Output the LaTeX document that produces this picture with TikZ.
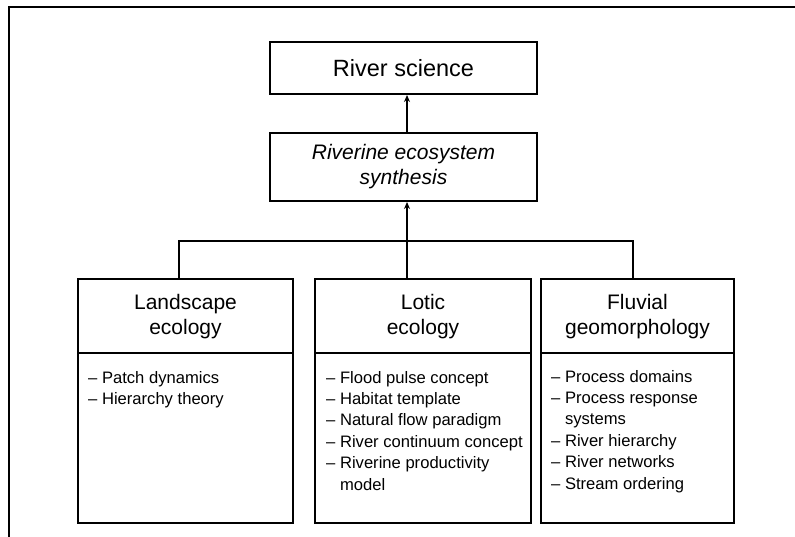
\documentclass[tikz,border=0pt]{standalone}
\usepackage{fontspec}
\setmainfont{Liberation Sans}
\usetikzlibrary{arrows.meta}
\tikzset{
  box/.style={draw, line width=2pt, rectangle, inner sep=0pt, align=center},
  headfont/.style={font=\fontsize{21}{25}\selectfont},
  titlefont/.style={font=\fontsize{23.5}{28}\selectfont},
  conn/.style={line width=1.5pt},
  arr/.style={conn, -{Stealth[length=7pt,width=6pt]}},
  listtxt/.style={anchor=base west, inner sep=0pt, font=\fontsize{16.6}{21.4}\selectfont},
  frameline/.style={line width=2.3pt},
}
\newcommand{\hang}{\phantom{–\ }}
\begin{document}
\begin{tikzpicture}[x=1pt,y=-1pt]
\useasboundingbox (0,0) rectangle (795,537);
\draw[frameline] (9,537) -- (9,7) -- (795,7);

% top boxes
\node[box, titlefont, minimum width=267pt, minimum height=52pt] (rs) at (403.5,68) {River science};
\node[box, headfont, minimum width=267pt, minimum height=68pt] (res) at (403.5,167) {\itshape Riverine ecosystem\\\itshape synthesis};

% bottom boxes: headers
\node[box, headfont, minimum width=215pt, minimum height=73.5pt] (landh) at (185.5,316.25) {Landscape\\ecology};
\node[box, headfont, minimum width=216pt, minimum height=73.5pt] (loth) at (423,316.25) {Lotic\\ecology};
\node[box, headfont, minimum width=193pt, minimum height=73.5pt] (fluvh) at (637.5,316.25) {Fluvial\\geomorphology};

% bottom boxes: bodies
\node[box, minimum width=215pt, minimum height=169.5pt] (landb) at (185.5,437.75) {};
\node[box, minimum width=216pt, minimum height=169.5pt] (lotb) at (423,437.75) {};
\node[box, minimum width=193pt, minimum height=169.5pt] (fluvb) at (637.5,437.75) {};

% lists
\node[listtxt] (landl) at (88,383) {\parbox[t]{200pt}{– Patch dynamics\\– Hierarchy theory}};
\node[listtxt] (lotl) at (326,383) {\parbox[t]{200pt}{– Flood pulse concept\\– Habitat template\\– Natural flow paradigm\\– River continuum concept\\– Riverine productivity\\\hang model}};
\node[listtxt] (fluvl) at (551,382) {\parbox[t]{180pt}{– Process domains\\– Process response\\\hang systems\\– River hierarchy\\– River networks\\– Stream ordering}};

% connector coordinates
\coordinate (ax) at (407,0);
\coordinate (lx) at (179,0);
\coordinate (fx) at (633,0);
\coordinate (hy) at (0,241);

% connectors
\draw[arr] (res.north -| ax) -- (rs.south -| ax);
\draw[arr] (loth.north -| ax) -- (res.south -| ax);
\draw[conn] (landh.north -| lx) -- (lx |- hy) -- (fx |- hy) -- (fluvh.north -| fx);
\end{tikzpicture}
\end{document}
